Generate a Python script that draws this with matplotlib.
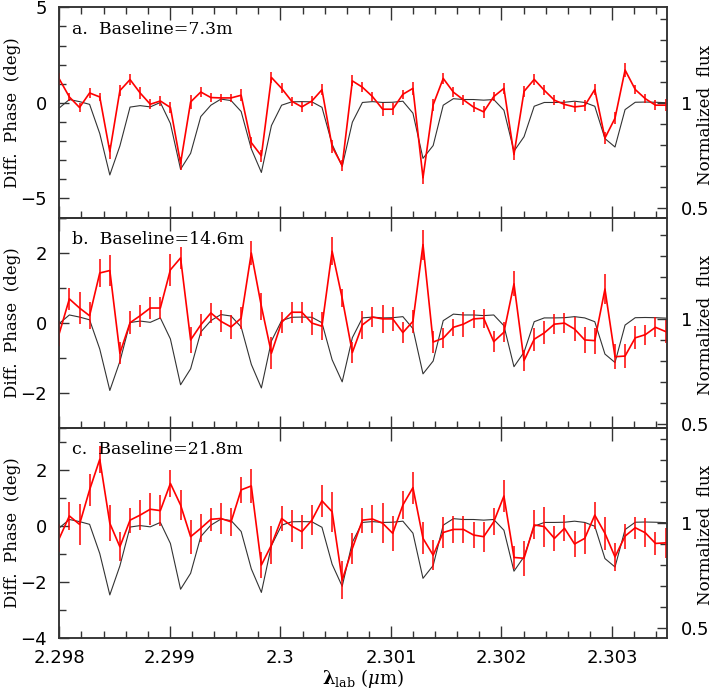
import matplotlib
matplotlib.use('Agg')
import matplotlib.pyplot as plt
from matplotlib.ticker import MultipleLocator, FuncFormatter

# ---------------- data ----------------
wavelength = [2.298000, 2.298091, 2.298183, 2.298274, 2.298366, 2.298457, 2.298548, 2.298640,
              2.298731, 2.298823, 2.298914, 2.299005, 2.299097, 2.299188, 2.299280, 2.299371,
              2.299462, 2.299554, 2.299645, 2.299737, 2.299828, 2.299919, 2.300011, 2.300102,
              2.300194, 2.300285, 2.300376, 2.300468, 2.300559, 2.300651, 2.300742, 2.300833,
              2.300925, 2.301016, 2.301108, 2.301199, 2.301290, 2.301382, 2.301473, 2.301565,
              2.301656, 2.301747, 2.301839, 2.301930, 2.302022, 2.302113, 2.302204, 2.302296,
              2.302387, 2.302479, 2.302570, 2.302661, 2.302753, 2.302844, 2.302936, 2.303027,
              2.303118, 2.303210, 2.303301, 2.303393, 2.303484]

flux = [0.978, 1.018, 1.008, 0.995, 0.856, 0.659, 0.797, 0.982, 0.989, 0.983, 1.004,
        0.904, 0.686, 0.762, 0.937, 0.991, 1.020, 1.013, 0.961, 0.783, 0.671, 0.894,
        0.991, 1.007, 1.008, 1.007, 0.981, 0.805, 0.700, 0.910, 1.004, 1.008, 1.004,
        1.005, 1.010, 0.953, 0.738, 0.799, 0.991, 1.022, 1.018, 1.018, 1.015, 1.018,
        0.967, 0.772, 0.841, 0.986, 1.004, 1.004, 1.005, 1.010, 1.004, 0.986, 0.832,
        0.792, 0.970, 1.005, 1.006, 1.005, 1.003]

phase_a = [1.25, 0.31, -0.24, 0.52, 0.31, -2.55, 0.64, 1.22, 0.52, -0.07, 0.10, -0.24,
           -3.16, 0.05, 0.57, 0.28, 0.26, 0.26, 0.40, -2.08, -2.77, 1.33, 0.76, 0.09,
           -0.21, 0.10, 0.69, -2.29, -3.28, 1.15, 0.82, 0.33, -0.33, -0.33, 0.45, 0.76,
           -3.92, -0.10, 1.28, 0.56, 0.16, -0.22, -0.47, 0.33, 0.76, -2.70, 0.60, 1.23,
           0.66, 0.14, -0.08, -0.21, -0.15, 0.70, -1.84, -0.80, 1.72, 0.70, 0.22, -0.12,
           -0.12]
err_a = [0.30, 0.22, 0.25, 0.27, 0.22, 0.36, 0.30, 0.29, 0.30, 0.26, 0.24, 0.30, 0.35,
         0.35, 0.28, 0.22, 0.22, 0.22, 0.32, 0.30, 0.30, 0.30, 0.26, 0.24, 0.26, 0.24,
         0.30, 0.35, 0.30, 0.29, 0.25, 0.25, 0.35, 0.30, 0.25, 0.35, 0.33, 0.30, 0.30,
         0.25, 0.25, 0.28, 0.30, 0.25, 0.30, 0.30, 0.30, 0.30, 0.25, 0.25, 0.22, 0.28,
         0.28, 0.30, 0.30, 0.30, 0.39, 0.25, 0.25, 0.25, 0.30]

phase_b = [-0.30, 0.68, 0.42, 0.20, 1.42, 1.49, -0.87, 0.00, 0.20, 0.42, 0.42, 1.51,
           1.85, -0.49, -0.06, 0.28, 0.04, -0.12, 0.13, 1.99, 0.47, -0.87, 0.01, 0.30,
           0.30, -0.01, -0.10, 2.04, 0.70, -0.85, -0.06, 0.16, 0.11, 0.11, -0.28, 0.04,
           2.23, -0.55, -0.44, -0.13, -0.04, 0.11, 0.13, -0.54, -0.27, 1.11, -1.08, -0.47,
           -0.29, -0.04, -0.01, -0.18, -0.49, -0.51, 0.96, -0.97, -0.95, -0.43, -0.34,
           -0.13, -0.25]
err_b = [0.35, 0.31, 0.45, 0.38, 0.41, 0.43, 0.31, 0.33, 0.31, 0.32, 0.31, 0.45, 0.31,
         0.38, 0.31, 0.29, 0.31, 0.34, 0.32, 0.33, 0.38, 0.45, 0.31, 0.30, 0.30, 0.33,
         0.40, 0.40, 0.26, 0.31, 0.40, 0.29, 0.40, 0.34, 0.31, 0.33, 0.43, 0.31, 0.29,
         0.24, 0.36, 0.26, 0.27, 0.30, 0.29, 0.36, 0.31, 0.33, 0.33, 0.29, 0.29, 0.33,
         0.37, 0.37, 0.42, 0.36, 0.33, 0.33, 0.29, 0.29, 0.33]

phase_c = [-0.44, 0.36, 0.06, 1.29, 2.38, 0.10, -0.74, 0.21, 0.39, 0.60, 0.55, 1.52,
           0.75, -0.38, -0.08, 0.24, 0.27, 0.15, 1.29, 1.43, -1.39, -0.68, 0.27, 0.00,
           -0.20, 0.21, 0.90, 0.51, -1.93, -0.80, 0.21, 0.25, 0.10, -0.26, 0.75, 1.37,
           -0.44, -1.04, -0.23, -0.12, -0.12, -0.32, -0.38, 0.15, 1.07, -1.12, -1.15,
           0.04, -0.02, -0.44, -0.08, -0.64, -0.44, 0.39, -0.26, -1.10, -0.36, -0.06,
           -0.24, -0.62, -0.60]
err_c = [0.50, 0.49, 0.73, 0.57, 0.48, 0.65, 0.52, 0.45, 0.54, 0.58, 0.55, 0.49, 0.52,
         0.60, 0.50, 0.42, 0.55, 0.50, 0.46, 0.60, 0.48, 0.68, 0.46, 0.57, 0.61, 0.54,
         0.57, 0.71, 0.68, 0.54, 0.45, 0.51, 0.71, 0.63, 0.51, 0.57, 0.57, 0.54, 0.54,
         0.48, 0.48, 0.45, 0.54, 0.48, 0.56, 0.42, 0.63, 0.52, 0.71, 0.45, 0.46, 0.45,
         0.54, 0.48, 0.60, 0.51, 0.45, 0.40, 0.51, 0.42, 0.54]

panel_labels = ["a.  Baseline=7.3m", "b.  Baseline=14.6m", "c.  Baseline=21.8m"]
phases = [phase_a, phase_b, phase_c]
errors = [err_a, err_b, err_c]
phase_ylims = [(-6, 5), (-3, 3), (-4, 3.5)]
phase_major = [5, 2, 2]
flux_ylims = [(0.456, 1.457), (0.481, 1.481), (0.453, 1.454)]
xlim = (2.298, 2.3035)

# ---------------- figure ----------------
plt.rcParams['font.family'] = ['DejaVu Sans']
plt.rcParams['mathtext.fontset'] = 'dejavuserif'
plt.rcParams['axes.unicode_minus'] = True

W_PX, H_PX = 713, 691
fig = plt.figure(figsize=(W_PX / 100, H_PX / 100), dpi=100)

left = 59.3 / W_PX
width = (667.3 - 59.3) / W_PX
ph = 210.3
top0 = 7.3

spine_col = '#333333'
serif = ['DejaVu Serif']
gfmt = FuncFormatter(lambda v, p: '%g' % round(v, 6))

for i in range(3):
    bottom = 1 - (top0 + ph * (i + 1)) / H_PX
    ax = fig.add_axes([left, bottom, width, ph / H_PX])
    tw = ax.twinx()
    ax.set_zorder(tw.get_zorder() + 1)
    ax.patch.set_visible(False)

    tw.plot(wavelength, flux, color='#333333', lw=0.8)
    ax.errorbar(wavelength, phases[i], yerr=errors[i], color='#ff0000', lw=1.2,
                elinewidth=1.1, capsize=0)

    ax.set_xlim(*xlim)
    ax.set_ylim(*phase_ylims[i])
    tw.set_ylim(*flux_ylims[i])

    ax.xaxis.set_major_locator(MultipleLocator(0.001))
    ax.xaxis.set_minor_locator(MultipleLocator(0.0002))
    ax.xaxis.set_major_formatter(gfmt)
    ax.yaxis.set_major_locator(MultipleLocator(phase_major[i]))
    ax.yaxis.set_minor_locator(MultipleLocator(1))
    tw.yaxis.set_major_locator(MultipleLocator(0.5))
    tw.yaxis.set_minor_locator(MultipleLocator(0.1))
    tw.yaxis.set_major_formatter(gfmt)

    ax.tick_params(axis='both', which='both', direction='in', top=True, right=False,
                   colors=spine_col, labelcolor='black', labelsize=13, width=1.0)
    ax.tick_params(axis='both', which='major', length=7, pad=9)
    ax.tick_params(axis='both', which='minor', length=5)
    ax.tick_params(axis='x', which='major', length=9, pad=8)
    if i > 0:
        ax.tick_params(axis='x', which='minor', top=False)
    if i < 2:
        ax.tick_params(axis='x', labelbottom=False)
    tw.tick_params(axis='y', which='both', direction='in', left=False, right=True,
                   colors=spine_col, labelcolor='black', labelsize=13, width=1.0)
    tw.tick_params(axis='y', which='major', length=7, pad=10)
    tw.tick_params(axis='y', which='minor', length=5)

    for a in (ax, tw):
        for s in a.spines.values():
            s.set_color(spine_col)
            s.set_linewidth(1.1)

    ax.set_ylabel('Diff.  Phase  (deg)', fontsize=12, family=serif,
                  va='center', ha='center')
    ax.yaxis.set_label_coords(-0.0775, 0.5)
    tw.set_ylabel('Normalized  flux', fontsize=12, family=serif, rotation=90,
                  va='center', ha='center')
    tw.yaxis.set_label_coords(1.0625, 0.49)

    ax.text(0.021, 0.895, panel_labels[i], transform=ax.transAxes, fontsize=12.5,
            family=serif, va='center', ha='left')

    if i == 2:
        ax.set_xlabel(r'$\mathbf{\lambda}_{\rm lab}$ $(\mu{\rm m})$', fontsize=13, labelpad=0)

fig.savefig('out.png', dpi=100)
